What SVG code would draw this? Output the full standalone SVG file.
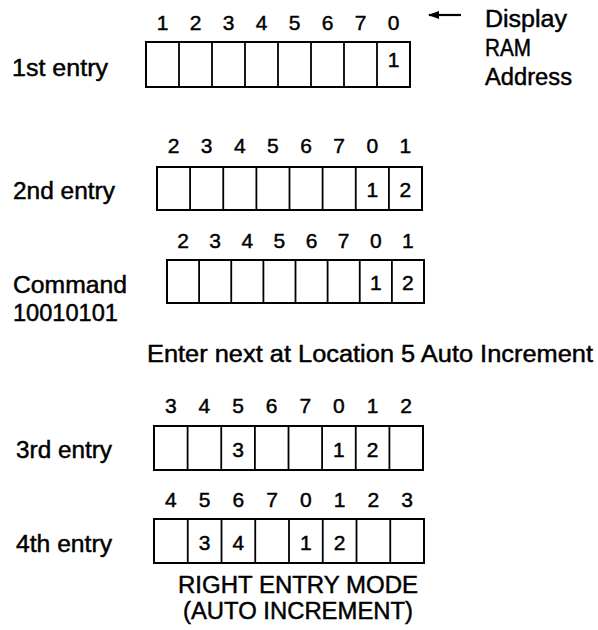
<svg xmlns="http://www.w3.org/2000/svg" width="598" height="630" viewBox="0 0 598 630">
<style>
text{font-family:"Liberation Sans",Arial,sans-serif;fill:#000;stroke:#000;stroke-width:0.45px}
.lbl{font-size:23px}
.num text,text.num{font-size:21px;text-anchor:middle}
.box{fill:#fff;stroke:#000;stroke-width:2}
.div{fill:none;stroke:#000;stroke-width:1.8}
</style>
<defs>
<marker id="ah" markerWidth="11" markerHeight="10" viewBox="0 0 11 10" refX="10" refY="5" orient="auto-start-reverse" markerUnits="userSpaceOnUse">
<path d="M0,1 L11,5 L0,9 Z" fill="#000"/>
</marker>
</defs>
<rect width="598" height="630" fill="#fff"/>

<g id="row1">
<text class="lbl" x="12" y="76" textLength="96" lengthAdjust="spacingAndGlyphs">1st entry</text>
<g class="num"><text x="162.5" y="30">1</text><text x="195.5" y="30">2</text><text x="228.5" y="30">3</text><text x="261.5" y="30">4</text><text x="294.5" y="30">5</text><text x="327.5" y="30">6</text><text x="360.5" y="30">7</text><text x="393.5" y="30">0</text></g>
<rect class="box" x="146" y="42" width="264" height="45"/>
<path class="div" d="M179,42V87M212,42V87M245,42V87M278,42V87M311,42V87M344,42V87M377,42V87"/>
<text class="num" x="393.5" y="67">1</text>
</g>

<g id="legend">
<text class="lbl" x="485" y="27" textLength="82" lengthAdjust="spacingAndGlyphs">Display</text>
<text class="lbl" x="485" y="56" textLength="46" lengthAdjust="spacingAndGlyphs">RAM</text>
<text class="lbl" x="485" y="85" textLength="87" lengthAdjust="spacingAndGlyphs">Address</text>
</g>

<g id="row2">
<text class="lbl" x="13" y="199" textLength="102" lengthAdjust="spacingAndGlyphs">2nd entry</text>
<g class="num"><text x="173.6" y="153">2</text><text x="206.7" y="153">3</text><text x="239.8" y="153">4</text><text x="272.9" y="153">5</text><text x="306.1" y="153">6</text><text x="339.2" y="153">7</text><text x="372.3" y="153">0</text><text x="405.4" y="153">1</text></g>
<rect class="box" x="157" y="167" width="265" height="43"/>
<path class="div" d="M190.1,167V210M223.25,167V210M256.4,167V210M289.5,167V210M322.6,167V210M355.75,167V210M388.9,167V210"/>
<text class="num" x="372.3" y="197">1</text><text class="num" x="405.4" y="197">2</text>
</g>

<g id="row3">
<text class="lbl" x="13" y="293" textLength="114" lengthAdjust="spacingAndGlyphs">Command</text>
<text class="lbl" x="13" y="321" textLength="105" lengthAdjust="spacingAndGlyphs">10010101</text>
<g class="num"><text x="183.1" y="248">2</text><text x="215.2" y="248">3</text><text x="247.3" y="248">4</text><text x="279.4" y="248">5</text><text x="311.6" y="248">6</text><text x="343.7" y="248">7</text><text x="375.8" y="248">0</text><text x="407.9" y="248">1</text></g>
<rect class="box" x="167" y="260" width="257" height="43"/>
<path class="div" d="M199.1,260V303M231.25,260V303M263.4,260V303M295.5,260V303M327.6,260V303M359.75,260V303M391.9,260V303"/>
<text class="num" x="375.8" y="290">1</text><text class="num" x="407.9" y="290">2</text>
</g>

<g id="note">
<text class="lbl" x="147" y="362" textLength="446" lengthAdjust="spacingAndGlyphs">Enter next at Location 5 Auto Increment</text>
</g>

<g id="row4">
<text class="lbl" x="16" y="458" textLength="96" lengthAdjust="spacingAndGlyphs">3rd entry</text>
<g class="num"><text x="170.8" y="413">3</text><text x="204.4" y="413">4</text><text x="238.1" y="413">5</text><text x="271.7" y="413">6</text><text x="305.3" y="413">7</text><text x="338.9" y="413">0</text><text x="372.6" y="413">1</text><text x="406.2" y="413">2</text></g>
<rect class="box" x="154" y="426" width="269" height="44"/>
<path class="div" d="M187.6,426V470M221.25,426V470M254.9,426V470M288.5,426V470M322.1,426V470M355.75,426V470M389.4,426V470"/>
<text class="num" x="238.1" y="457">3</text><text class="num" x="338.9" y="457">1</text><text class="num" x="372.6" y="457">2</text>
</g>

<g id="row5">
<text class="lbl" x="16" y="552" textLength="96" lengthAdjust="spacingAndGlyphs">4th entry</text>
<g class="num"><text x="170.9" y="507">4</text><text x="204.6" y="507">5</text><text x="238.4" y="507">6</text><text x="272.1" y="507">7</text><text x="305.9" y="507">0</text><text x="339.6" y="507">1</text><text x="373.4" y="507">2</text><text x="407.1" y="507">3</text></g>
<rect class="box" x="154" y="519" width="270" height="44"/>
<path class="div" d="M187.75,519V563M221.5,519V563M255.25,519V563M289,519V563M322.75,519V563M356.5,519V563M390.25,519V563"/>
<text class="num" x="204.6" y="550">3</text><text class="num" x="238.4" y="550">4</text><text class="num" x="305.9" y="550">1</text><text class="num" x="339.6" y="550">2</text>
</g>

<g id="caption">
<text class="lbl" x="178" y="593" textLength="240" lengthAdjust="spacingAndGlyphs">RIGHT ENTRY MODE</text>
<text class="lbl" x="183" y="619" textLength="230" lengthAdjust="spacingAndGlyphs">(AUTO INCREMENT)</text>
</g>

<g id="connectors">
<line x1="429" y1="15" x2="461" y2="15" stroke="#000" stroke-width="2.2" marker-start="url(#ah)"/>
</g>
</svg>
